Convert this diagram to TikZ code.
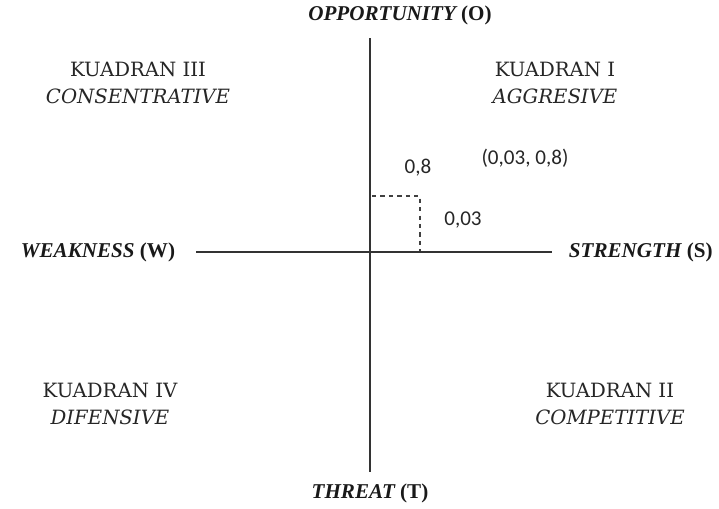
\documentclass[tikz,border=0pt]{standalone}
\usepackage{fontspec}
\setmainfont{DejaVu Serif}
\newfontfamily\headfont{Liberation Serif}
\newfontfamily\numfont{Carlito}
\usepackage{tikz}
\usetikzlibrary{positioning,calc}

\begin{document}
\begin{tikzpicture}[x=0.025cm, y=-0.025cm,
    axislabel/.style={font=\headfont\fontsize{15}{18}\selectfont\bfseries\itshape, text=black!90},
    quadlabel/.style={font=\fontsize{14}{19}\selectfont, text=black!85, align=center},
    numlabel/.style={font=\numfont\fontsize{15}{17}\selectfont, text=black!85}]
    \useasboundingbox (0,0) rectangle (719,508);

    \coordinate (top) at (370,38);
    \coordinate (bottom) at (370,472);
    \coordinate (left) at (196,252);
    \coordinate (right) at (552,252);

    \node[axislabel] (o) at (400,15) {OPPORTUNITY \upshape(O)};
    \node[axislabel] (t) at (370,493) {THREAT \upshape(T)};
    \node[axislabel, anchor=east] (w) at (180,252) {WEAKNESS \upshape(W)};
    \node[axislabel, anchor=west] (s) at (564,252) {STRENGTH \upshape(S)};

    \node[quadlabel] (q3) at (138,83) {KUADRAN III\\\itshape CONSENTRATIVE};
    \node[quadlabel] (q1) at (555,83) {KUADRAN I\\\itshape AGGRESIVE};
    \node[quadlabel] (q4) at (110,404) {KUADRAN IV\\\itshape DIFENSIVE};
    \node[quadlabel] (q2) at (610,404) {KUADRAN II\\\itshape COMPETITIVE};

    \draw[line width=1pt, black!80] (top) -- (bottom);
    \draw[line width=1pt, black!80] (left) -- (right);

    % titik posisi
    \coordinate (py) at (372,196);
    \coordinate (pt) at (420,196);
    \coordinate (px) at (420,251);
    \draw[dashed, line width=0.8pt, black!75] (py) -- (pt) -- (px);

    \node[numlabel] (vy) at (418,168) {0,8};
    \node[numlabel] (vx) at (463,220) {0,03};
    \node[numlabel] (pos) at (525,158) {(0,03, 0,8)};
\end{tikzpicture}
\end{document}
